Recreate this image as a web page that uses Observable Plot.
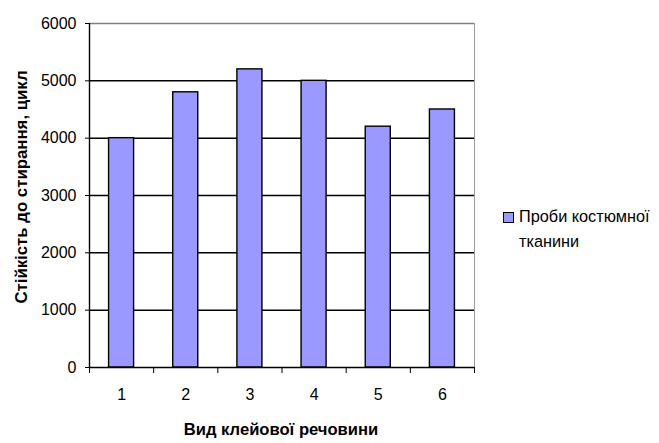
<!DOCTYPE html>
<html>
<head>
<meta charset="utf-8">
<script src="https://cdn.jsdelivr.net/npm/d3@7"></script>
<script src="https://cdn.jsdelivr.net/npm/@observablehq/plot@0.6"></script>
<style>
  html, body { margin: 0; padding: 0; background: #fff; }
  #wrap { position: relative; width: 659px; height: 443px; font-family: "Liberation Sans", Arial, sans-serif; color: #000; }
  #wrap svg { position: absolute; left: 0; top: 0; }
  .ytitle { position: absolute; left: 22px; top: 187px; transform: translate(-50%, -50%) rotate(-90deg); white-space: nowrap; font-weight: bold; font-size: 16.8px; }
  .xtitle { position: absolute; left: 281px; top: 430px; transform: translate(-50%, -50%); white-space: nowrap; font-weight: bold; font-size: 16.6px; }
  .legend { position: absolute; left: 503px; top: 207px; font-size: 16.3px; line-height: 25px; }
  .legend .sw { position: absolute; left: 0; top: 5px; width: 9px; height: 9px; background: #9999FF; border: 1.5px solid #000; }
  .legend .tx { position: absolute; left: 16px; top: -3px; white-space: nowrap; }
</style>
</head>
<body>
<div id="wrap"></div>
<script>
const categories = [1, 2, 3, 4, 5, 6];
const values = [4000, 4800, 5200, 5000, 4200, 4500];
const yTicks = [0, 1000, 2000, 3000, 4000, 5000, 6000];
const gridValues = [1000, 2000, 3000, 4000, 5000];
const topValue = [6000];
const boundaries = [0.5, 1.5, 2.5, 3.5, 4.5, 5.5, 6.5];
const seriesName = ["Проби костюмної", "тканини"];
const yTitle = "Стійкість до стирання, цикл";
const xTitle = "Вид клейової речовини";

const data = categories.map((c, i) => ({cat: c, value: values[i]}));
const halfBar = 0.195;

const chart = Plot.plot({
  width: 659,
  height: 443,
  marginLeft: 89,
  marginRight: 185,
  marginTop: 23,
  marginBottom: 76,
  x: {type: "linear", domain: [boundaries[0], boundaries[boundaries.length - 1]]},
  y: {domain: [0, 6000]},
  style: {fontFamily: '"Liberation Sans", Arial, sans-serif', fontSize: "16px", color: "#000", background: "transparent"},
  marks: [
    Plot.ruleY(gridValues, {stroke: "#000", strokeWidth: 1.5}),
    Plot.ruleY(topValue, {stroke: "#808080", strokeWidth: 1.5}),
    Plot.ruleX(boundaries.slice(-1), {stroke: "#9a9a9a", strokeWidth: 1}),
    Plot.rectY(data, {x1: d => d.cat - halfBar, x2: d => d.cat + halfBar, y1: 0, y2: "value", fill: "#9999FF", stroke: "#000", strokeWidth: 1.4}),
    Plot.ruleX(boundaries.slice(0, 1), {stroke: "#000", strokeWidth: 1.4}),
    Plot.ruleY([0], {stroke: "#000", strokeWidth: 1.5}),
    Plot.axisY({ticks: yTicks, tickSize: 4, tickPadding: 9, tickFormat: "d", label: null, stroke: "#000"}),
    Plot.axisX({ticks: categories, tickSize: 0, tickPadding: 21, tickFormat: "d", label: null}),
    Plot.axisX({ticks: boundaries, tickSize: 6, tickFormat: () => "", label: null, stroke: "#000"})
  ]
});

const wrap = document.getElementById("wrap");
wrap.appendChild(chart);

const yt = document.createElement("div");
yt.className = "ytitle";
yt.textContent = yTitle;
wrap.appendChild(yt);

const xt = document.createElement("div");
xt.className = "xtitle";
xt.textContent = xTitle;
wrap.appendChild(xt);

const lg = document.createElement("div");
lg.className = "legend";
lg.innerHTML = '<div class="sw"></div><div class="tx"></div>';
lg.querySelector(".tx").innerHTML = seriesName.map(s => `<div>${s}</div>`).join("");
wrap.appendChild(lg);
</script>
</body>
</html>
